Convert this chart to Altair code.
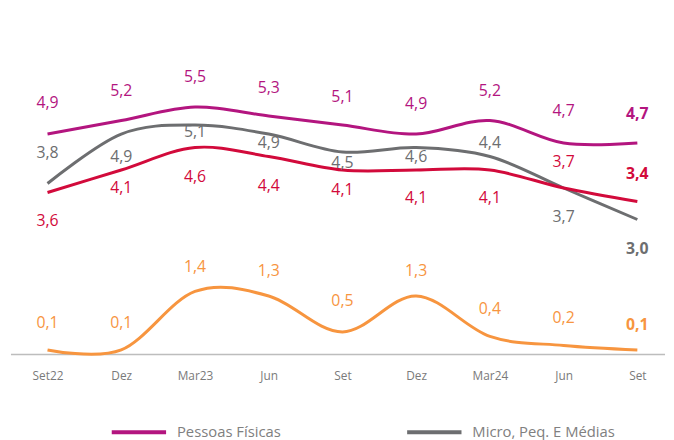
import json
import altair as alt
import pandas as pd

# ---- data ----
tick_labels = ["Set22", "Dez", "Mar23", "Jun", "Set", "Dez", "Mar24", "Jun", "Set"]
series_names = ["Pessoas Físicas", "Micro, Peq. E Médias", "Total", "Grandes Empresas"]
pessoas_fisicas = [4.9, 5.2, 5.5, 5.3, 5.1, 4.9, 5.2, 4.7, 4.7]
micro_pme = [3.8, 4.9, 5.1, 4.9, 4.5, 4.6, 4.4, 3.7, 3.0]
total = [3.6, 4.1, 4.6, 4.4, 4.1, 4.1, 4.1, 3.7, 3.4]
grandes = [0.1, 0.1, 1.4, 1.3, 0.5, 1.3, 0.4, 0.2, 0.1]

# label placement (pixel offsets from the point, negative = above)
pf_dy = [-31, -30, -30, -28, -28, -30, -30, -32, -29]
mp_dy = [-31, 23, 7, 9, 11, 10, -14, 29, 30]
tt_dy = [29, 18, 30, 30, 20, 28, 28, -26, -28]
ge_dy = [-27, -27, -25, -25, -31, -25, -28, -28, -25]

colors = ["#B3157F", "#6D6E70", "#D20A3B", "#F7953F"]

W, H, YMAX = 662, 346, 7.6
PPU = H / YMAX
FONT = "Open Sans"

rows = []
for name, vals, dys in zip(series_names,
                           [pessoas_fisicas, micro_pme, total, grandes],
                           [pf_dy, mp_dy, tt_dy, ge_dy]):
    for i, (v, d) in enumerate(zip(vals, dys)):
        rows.append({"series": name, "idx": i, "value": v, "dy": d,
                     "label": f"{v:.1f}".replace(".", ","),
                     "last": i == len(vals) - 1})
df = pd.DataFrame(rows)

label_expr = json.dumps(tick_labels) + "[datum.value]"

x_enc = alt.X("idx:O",
              scale=alt.Scale(type="point", range=[37, 634], padding=0),
              axis=alt.Axis(title=None, labelExpr=label_expr, labelAngle=0,
                            ticks=False, domain=False, labelPadding=16,
                            labelFont=FONT, labelFontSize=12, labelColor="#7A7A7A"))
y_scale = alt.Scale(domain=[0, YMAX], nice=False, zero=True)

color_scale = alt.Scale(domain=series_names, range=colors)

base = alt.Chart(df)

baseline = alt.Chart(pd.DataFrame({"zero": [0]})).mark_rule(
    color="#BDBDBD", strokeWidth=1.5
).encode(
    y=alt.Y("zero:Q", scale=y_scale, axis=None),
    x=alt.value(0), x2=alt.value(W),
)

lines = base.mark_line(interpolate="cardinal", strokeWidth=3).encode(
    x=x_enc,
    y=alt.Y("value:Q", scale=y_scale, axis=None),
    color=alt.Color("series:N", scale=color_scale,
                    legend=alt.Legend(title=None, orient="none", legendX=100, legendY=395,
                                      direction="horizontal", values=series_names[:2],
                                      symbolType="stroke", symbolSize=3025,
                                      symbolStrokeWidth=4, labelFont=FONT,
                                      labelFontSize=15, labelColor="#808080",
                                      labelOffset=9, columnPadding=119, padding=0)),
    detail="series:N",
)

text_base = base.transform_calculate(
    ypos=f"datum.value - datum.dy / {PPU}"
).encode(
    x=x_enc,
    y=alt.Y("ypos:Q", scale=y_scale),
    text="label:N",
    color=alt.Color("series:N", scale=color_scale, legend=None),
)

labels = text_base.transform_filter("!datum.last").mark_text(
    font=FONT, fontSize=16, align="center", baseline="middle")
labels_last = text_base.transform_filter("datum.last").mark_text(
    font=FONT, fontSize=16, fontWeight="bold", align="center", baseline="middle")

chart = alt.layer(baseline, lines, labels, labels_last).properties(
    width=W, height=H,
    padding={"left": 2, "top": 2, "right": 0, "bottom": 0},
).configure_view(stroke=None)

chart.save("out.html", embed_options={"renderer": "svg", "actions": False})
